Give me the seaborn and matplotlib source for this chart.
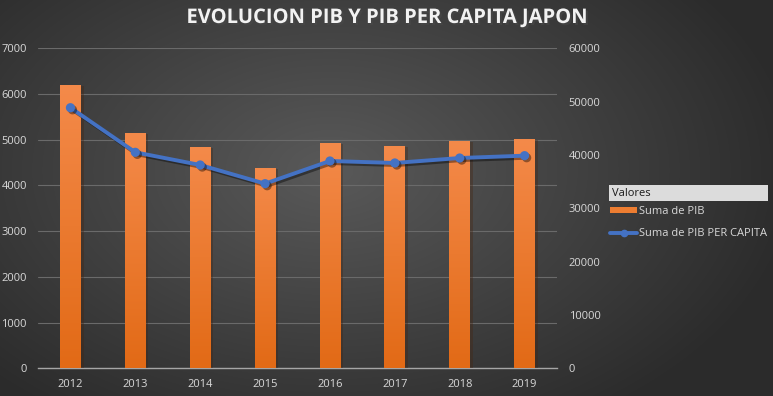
import seaborn as sns
import pandas as pd
import matplotlib.pyplot as plt
import numpy as np
import matplotlib.patheffects as PathEffects
from matplotlib.patches import Patch, Rectangle
from matplotlib.lines import Line2D

#-----------------------------------------------------------------------------------------------------------------------
"""Data"""
years = ['2012', '2013', '2014', '2015', '2016', '2017', '2018', '2019']
pib = [6200, 5155, 4850, 4390, 4935, 4870, 4970, 5015]
pib_pc = [48860, 40500, 38120, 34620, 38870, 38500, 39430, 39870]

df = pd.DataFrame({'year': years, 'pib': pib, 'pib_pc': pib_pc})

#-----------------------------------------------------------------------------------------------------------------------
"""Style"""
sns.set_style('white')
plt.rcParams['font.family'] = ['Open Sans', 'DejaVu Sans']
TickCol = '#d9d9d9'
Orange = '#ED7D31'
Blue = '#4472C4'

fig = plt.figure(figsize=(7.73, 3.96), dpi=100)

#Background radial gradient
bg = fig.add_axes([0, 0, 1, 1], zorder=-10)
yy, xx = np.mgrid[0:396, 0:773]
d = np.sqrt(((xx - 330) / 520.0) ** 2 + ((yy - 170) / 330.0) ** 2)
shade = np.clip(0.35 - 0.2 * d, 0.17, 0.35)
bg.imshow(np.dstack([shade, shade, shade]), aspect='auto', extent=[0, 1, 0, 1])
bg.axis('off')

ax = fig.add_axes([38 / 773, 1 - 368.3 / 396, (557 - 38) / 773, 320 / 396])
ax.set_facecolor('none')
ax2 = ax.twinx()
ax2.set_facecolor('none')

#-----------------------------------------------------------------------------------------------------------------------
"""Bars"""
sns.barplot(data=df, x='year', y='pib', ax=ax, color=Orange, width=0.32, saturation=1, linewidth=0, zorder=3)
grad = np.linspace(0, 1, 100).reshape(-1, 1)
top_c = np.array([0xF4, 0x8A, 0x4A]) / 255
bot_c = np.array([0xE2, 0x6A, 0x16]) / 255
img = top_c[None, None, :] * (1 - grad[:, :, None]) + bot_c[None, None, :] * grad[:, :, None]
for p in ax.patches:
    x0, y0 = p.get_x(), p.get_y()
    w, h = p.get_width(), p.get_height()
    p.set_path_effects([PathEffects.SimplePatchShadow(offset=(2, -1), alpha=0.35), PathEffects.Normal()])
    im = ax.imshow(img, aspect='auto', extent=[x0, x0 + w, y0, y0 + h], zorder=4)
    im.set_clip_path(p)

ax.set_xlim(-0.5, 7.5)
ax.set_ylim(0, 7000)
ax.set_yticks(range(0, 7001, 1000))

#-----------------------------------------------------------------------------------------------------------------------
"""Line"""
sns.pointplot(data=df, x='year', y='pib_pc', ax=ax2, color=Blue, markers='o',
              markersize=4.5, linewidth=2.8, zorder=5)
for ln in ax2.lines:
    ln.set_path_effects([PathEffects.SimpleLineShadow(offset=(1.5, -1.5), alpha=0.4), PathEffects.Normal()])
ax2.set_ylim(0, 60000)
ax2.set_yticks(range(0, 60001, 10000))
ax2.set_xlim(-0.5, 7.5)

#-----------------------------------------------------------------------------------------------------------------------
"""Axes look"""
ax.grid(axis='y', color='#6a6a6a', linewidth=0.8, zorder=0)
ax.set_axisbelow(True)
for a in (ax, ax2):
    for s in a.spines.values():
        s.set_visible(False)
    a.set_xlabel('')
    a.set_ylabel('')
ax.spines['bottom'].set_visible(True)
ax.spines['bottom'].set_color('#a6a6a6')
ax.spines['bottom'].set_linewidth(1)
ax.tick_params(axis='y', colors=TickCol, labelsize=8, length=0, pad=8)
ax.tick_params(axis='x', colors=TickCol, labelsize=8, length=0, pad=8)
ax2.tick_params(axis='y', colors=TickCol, labelsize=8, length=0, pad=8.5)

#-----------------------------------------------------------------------------------------------------------------------
"""Title"""
t = fig.text(0.5, 1 - 18 / 396, 'EVOLUCION PIB Y PIB PER CAPITA JAPON', ha='center', va='center',
             color='#f2f2f2', fontsize=14.5, fontweight='bold')
t.set_path_effects([PathEffects.withSimplePatchShadow(offset=(1.5, -1.5), alpha=0.6)])

#-----------------------------------------------------------------------------------------------------------------------
"""Legend"""
fig.patches.append(Rectangle((609 / 773, 1 - 201 / 396), 159 / 773, 16 / 396, transform=fig.transFigure,
                             facecolor='#dcdcdc', edgecolor='none', zorder=5))
fig.text(612 / 773, 1 - 193 / 396, 'Valores', ha='left', va='center', color='#1a1a1a', fontsize=8, zorder=6)

handles = [Patch(facecolor=Orange, edgecolor='none'),
           Line2D([0], [0], color=Blue, linewidth=2.8, marker='o', markersize=4.5)]
labels = ['Suma de PIB', 'Suma de PIB PER CAPITA']
fig.legend(handles, labels, loc='upper left', bbox_to_anchor=(608 / 773, 1 - 204 / 396), frameon=False,
           fontsize=8, labelcolor=TickCol, handlelength=2.4, handleheight=0.5, handletextpad=0.2,
           labelspacing=1.0, borderaxespad=0, borderpad=0.2)

#-----------------------------------------------------------------------------------------------------------------------
"""Save"""
fig.savefig('out.png', dpi=100)
